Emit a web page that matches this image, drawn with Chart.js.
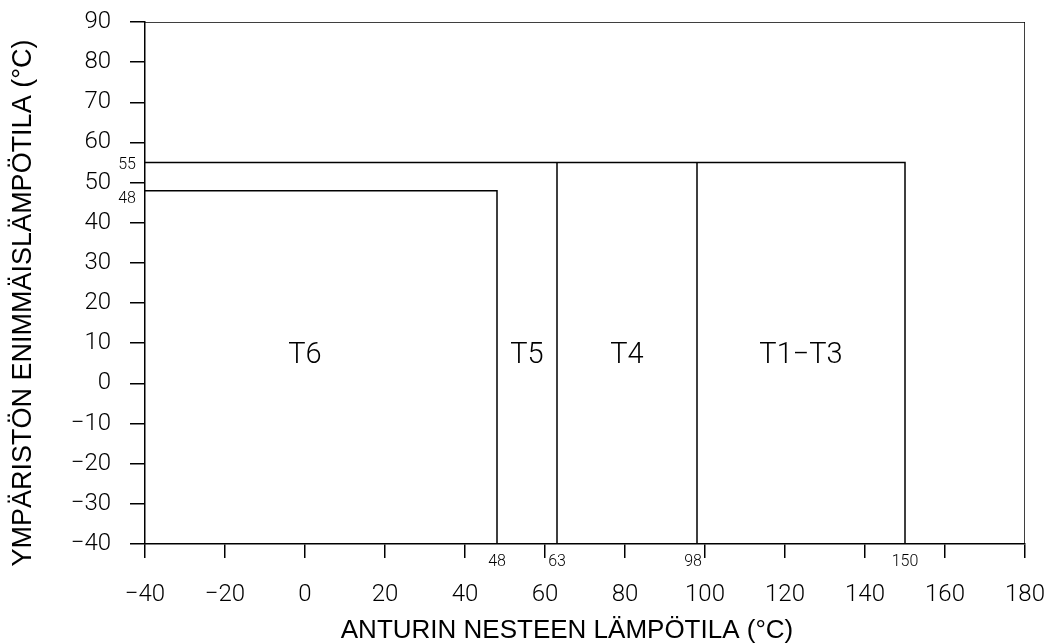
<!DOCTYPE html>
<html>
<head>
<meta charset="utf-8">
<script src="https://cdn.jsdelivr.net/npm/chart.js@4.4.0/dist/chart.umd.min.js"></script>
<style>
  html, body { margin: 0; padding: 0; background: #ffffff; }
  #wrap { width: 1050px; height: 643px; }
</style>
</head>
<body>
<div id="wrap"><canvas id="c" width="1050" height="643"></canvas></div>
<script>
// ---- data ----
const xMin = -40, xMax = 180, xStep = 20;
const yMin = -40, yMax = 90, yStep = 10;

const frameX = [-40, 180, 180];
const frameY = [90, 90, -40];

const t6X = [-40, 48, 48];
const t6Y = [48, 48, -40];

const t5X = [-40, 150, 150];
const t5Y = [55, 55, -40];

const t4X = [63, 63];
const t4Y = [55, -40];

const t13X = [98, 98];
const t13Y = [55, -40];

const regionNames = ['T6', 'T5', 'T4', 'T1\u2212T3'];
const regionX = [0, 55.5, 80.5, 124];
const regionY = [7, 7, 7, 7];

const xMarks = [48, 63, 98, 150];
const xMarkLabels = ['48', '63', '98', '150'];
const yMarks = [55, 48];
const yMarkLabels = ['55', '48'];

const xTitle = 'ANTURIN NESTEEN L\u00c4MP\u00d6TILA (\u00b0C)';
const yTitle = 'YMP\u00c4RIST\u00d6N ENIMM\u00c4ISL\u00c4MP\u00d6TILA (\u00b0C)';

// ---- helpers ----
function pts(xs, ys) { return xs.map((x, i) => ({ x: x, y: ys[i] })); }
function lineDs(xs, ys) {
  return {
    data: pts(xs, ys),
    showLine: true,
    borderColor: '#000000',
    borderWidth: 1.5,
    pointRadius: 0,
    fill: false,
    tension: 0
  };
}

const thinFont = "Roboto, 'DejaVu Sans', sans-serif";
const titleFont = "'Liberation Sans', Arial, sans-serif";

const labelsPlugin = {
  id: 'labelsPlugin',
  afterDraw(chart) {
    const ctx = chart.ctx;
    const xs = chart.scales.x, ys = chart.scales.y;
    ctx.save();
    ctx.fillStyle = '#000000';
    // region labels
    ctx.font = '300 29px ' + thinFont;
    ctx.textAlign = 'center';
    ctx.textBaseline = 'middle';
    regionNames.forEach((n, i) => {
      ctx.fillText(n, xs.getPixelForValue(regionX[i]), ys.getPixelForValue(regionY[i]));
    });
    // small marker labels on x
    ctx.font = '300 16px ' + thinFont;
    xMarks.forEach((v, i) => {
      const off = (v === 98) ? -4 : 0;
      ctx.fillText(xMarkLabels[i], xs.getPixelForValue(v) + off, ys.getPixelForValue(yMin) + 18);
    });
    // small marker labels on y
    yMarks.forEach((v, i) => {
      const off = (v === 48) ? 8 : 2;
      ctx.fillText(yMarkLabels[i], xs.getPixelForValue(xMin) - 18, ys.getPixelForValue(v) + off);
    });
    // axis titles
    ctx.font = '26px ' + titleFont;
    ctx.fillText(xTitle, 567, 631);
    ctx.font = '27px ' + titleFont;
    ctx.translate(24, 303);
    ctx.rotate(-Math.PI / 2);
    ctx.fillText(yTitle, 0, 0);
    ctx.restore();
  }
};

new Chart(document.getElementById('c'), {
  type: 'scatter',
  data: {
    datasets: [
      lineDs(frameX, frameY),
      lineDs(t6X, t6Y),
      lineDs(t5X, t5Y),
      lineDs(t4X, t4Y),
      lineDs(t13X, t13Y)
    ]
  },
  options: {
    responsive: false,
    devicePixelRatio: 1,
    animation: false,
    layout: { padding: { left: 0, right: 25, top: 22, bottom: 0 } },
    plugins: {
      legend: { display: false },
      tooltip: { enabled: false }
    },
    scales: {
      x: {
        type: 'linear',
        min: xMin, max: xMax,
        afterFit(scale) {
          scale.height = 99;
          scale.paddingLeft = 0;
          scale.paddingRight = 0;
        },
        ticks: {
          stepSize: xStep,
          color: '#000000',
          padding: 23,
          maxRotation: 0,
          font: { family: thinFont, size: 24, weight: 300 },
          callback: v => (v < 0 ? '\u2212' + Math.abs(v) : String(v))
        },
        grid: {
          drawOnChartArea: false,
          drawTicks: true,
          tickLength: 14,
          color: '#000000',
          lineWidth: 1.5
        },
        border: { display: true, color: '#000000', width: 1.5 }
      },
      y: {
        type: 'linear',
        min: yMin, max: yMax,
        afterFit(scale) {
          scale.width = 145;
          scale.paddingTop = 0;
          scale.paddingBottom = 0;
        },
        ticks: {
          stepSize: yStep,
          color: '#000000',
          padding: 19,
          font: { family: thinFont, size: 24, weight: 300 },
          callback: v => (v < 0 ? '\u2212' + Math.abs(v) : String(v))
        },
        grid: {
          drawOnChartArea: false,
          drawTicks: true,
          tickLength: 15,
          color: '#000000',
          lineWidth: 1.5
        },
        border: { display: true, color: '#000000', width: 1.5 }
      }
    }
  },
  plugins: [labelsPlugin]
});
</script>
</body>
</html>
